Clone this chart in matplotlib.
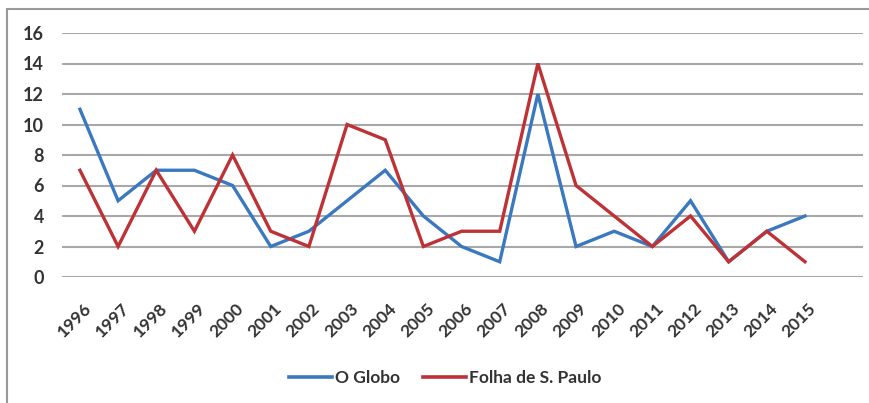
import matplotlib
matplotlib.use("Agg")
import matplotlib.pyplot as plt
import matplotlib.transforms as mtransforms
from matplotlib.patches import Rectangle

years = ["1996", "1997", "1998", "1999", "2000", "2001", "2002", "2003", "2004", "2005",
         "2006", "2007", "2008", "2009", "2010", "2011", "2012", "2013", "2014", "2015"]
o_globo = [11, 5, 7, 7, 6, 2, 3, 5, 7, 4, 2, 1, 12, 2, 3, 2, 5, 1, 3, 4]
folha = [7, 2, 7, 3, 8, 3, 2, 10, 9, 2, 3, 3, 14, 6, 4, 2, 4, 1, 3, 1]
yticks = [0, 2, 4, 6, 8, 10, 12, 14, 16]

plt.rcParams['font.family'] = ['Lato', 'DejaVu Sans']

W, H = 869, 403
fig = plt.figure(figsize=(W / 100, H / 100), dpi=100)
fig.patch.set_facecolor('white')

# outer chart border (cropped at right and bottom)
fig.add_artist(Rectangle((7 / W, -0.1), 1.2, (H - 9) / H + 0.1, transform=fig.transFigure,
                         fill=False, edgecolor='#9a9a9a', linewidth=1.5))

left, right = 62 / W, 863 / W
top, bottom = 1 - 33 / H, 1 - 277 / H
ax = fig.add_axes([left, bottom, right - left, top - bottom])

x = list(range(len(years)))
ax.plot(x, o_globo, color='#3A78C0', linewidth=2.4, label='O Globo', solid_joinstyle='miter')
ax.plot(x, folha, color='#BE3236', linewidth=2.4, label='Folha de S. Paulo', solid_joinstyle='miter')

ax.set_ylim(0, 16)
ax.set_xlim(-0.47, 20.52)
ax.set_yticks(yticks)
ax.set_yticklabels([str(v) for v in yticks], fontsize=13, color='#333333', fontweight='bold')
ax.set_xticks(x)
ax.set_xticklabels(years, rotation=45, ha='right', va='top', rotation_mode='anchor',
                   fontsize=12.5, color='#333333', fontweight='bold')
ax.tick_params(axis='both', length=0)
ax.tick_params(axis='y', pad=13)
ax.tick_params(axis='x', pad=17)
offset = mtransforms.ScaledTranslation(3 / 100, 0, fig.dpi_scale_trans)
for lbl in ax.get_xticklabels():
    lbl.set_transform(lbl.get_transform() + offset)
ax.grid(axis='y', color='#a8a8a8', linewidth=1.5)
ax.set_axisbelow(True)
for s in ax.spines.values():
    s.set_visible(False)

leg = fig.legend(loc='center', bbox_to_anchor=(445 / W, 1 - 378 / H), ncol=2, frameon=False,
                 fontsize=12.5, handlelength=2.5, columnspacing=1.3, handletextpad=0.15)
for t in leg.get_texts():
    t.set_color('#333333')
    t.set_fontweight('bold')
for l in leg.get_lines():
    l.set_linewidth(2.6)

fig.savefig('out.png', dpi=100, facecolor='white')
